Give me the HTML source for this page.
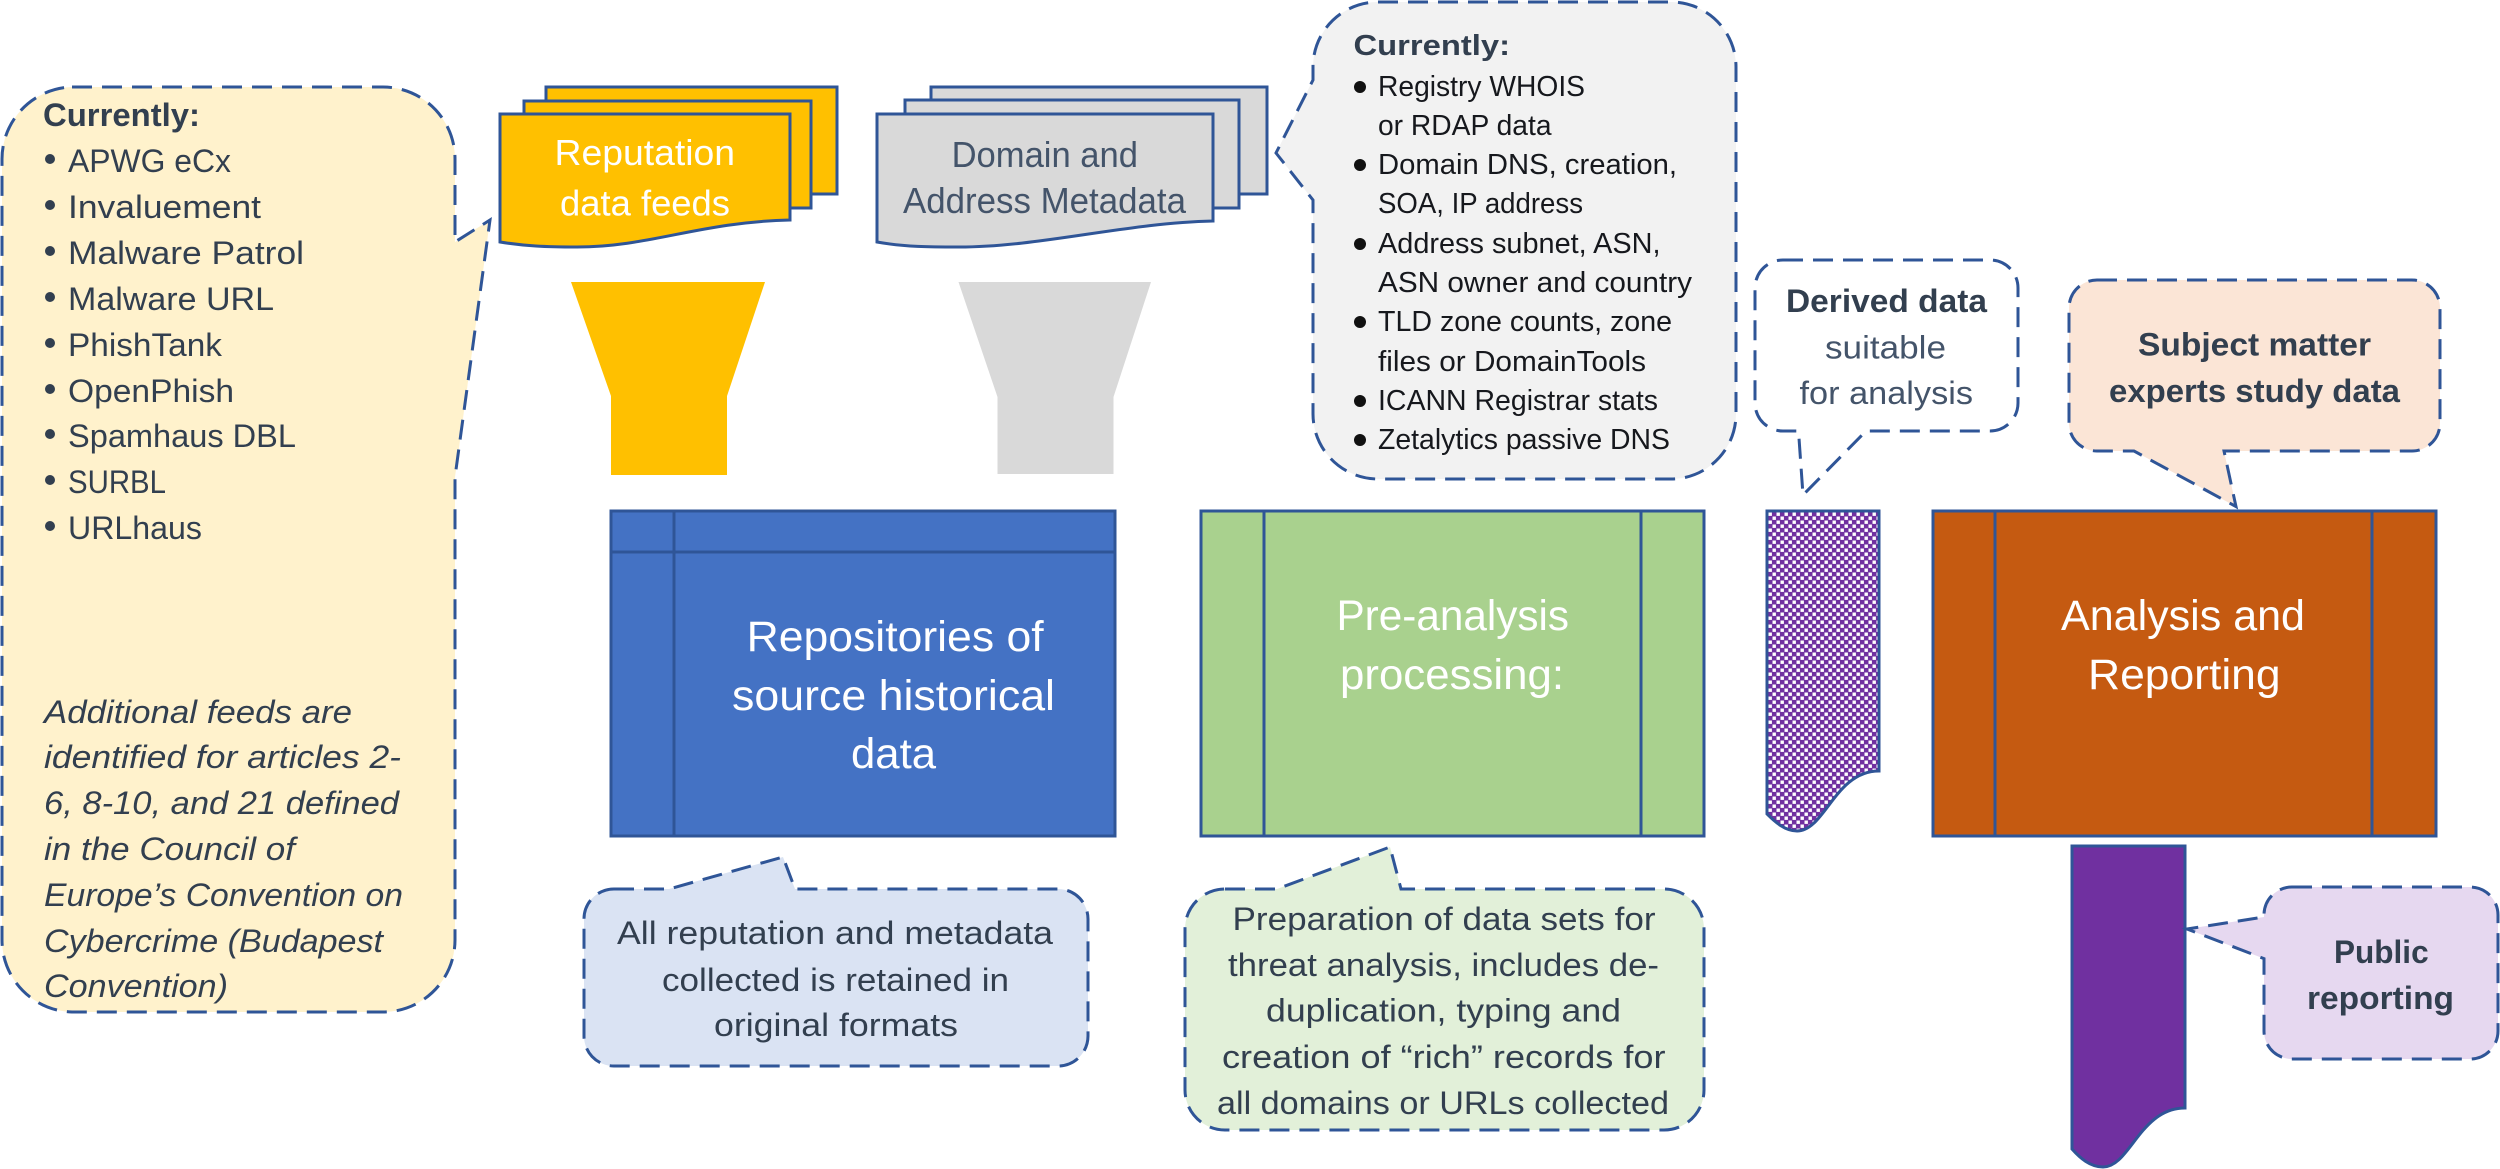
<!DOCTYPE html>
<html><head><meta charset="utf-8"><style>
html,body{margin:0;padding:0;background:#fff}
svg{display:block}
text{font-family:"Liberation Sans",sans-serif;}
.c{fill:none}
.d{stroke:#2F5597;stroke-width:3;stroke-dasharray:20 10}
.s{stroke:#2F5597;stroke-width:3}
.n{stroke:#2F5597;stroke-width:3}
.l{font-size:32px;fill:#323F4F}
.m{font-size:29px;fill:#16181d}
.b{font-weight:bold}
.i{font-style:italic}
.w{fill:#fff}
.big{font-size:43px;fill:#fff}
.mid{font-size:36px}
</style></head><body>
<svg xmlns="http://www.w3.org/2000/svg" width="2500" height="1169" viewBox="0 0 2500 1169">
<defs>
<pattern id="dots" width="8" height="8" patternUnits="userSpaceOnUse">
<rect width="8" height="8" fill="#7030A0"/>
<rect x="0.5" y="0.5" width="3.4" height="3.4" fill="#fff"/>
<rect x="4.5" y="4.5" width="3.4" height="3.4" fill="#fff"/>
</pattern>
</defs>

<!-- Yellow callout -->
<path class="d" fill="#FFF2CC" d="M72 87H383A72 72 0 0 1 455 159V242L490 220L455 477V940A72 72 0 0 1 383 1012H72A72 72 0 0 1 2 940V159A72 72 0 0 1 72 87Z"/>
<text class="l b" x="43" y="126" textLength="157" lengthAdjust="spacingAndGlyphs">Currently:</text>
<g fill="#323F4F">
<circle cx="50" cy="159" r="5"/><circle cx="50" cy="205" r="5"/><circle cx="50" cy="251" r="5"/><circle cx="50" cy="297" r="5"/><circle cx="50" cy="343" r="5"/><circle cx="50" cy="389" r="5"/><circle cx="50" cy="434" r="5"/><circle cx="50" cy="480" r="5"/><circle cx="50" cy="526" r="5"/>
</g>
<text class="l" x="68" y="172" textLength="163" lengthAdjust="spacingAndGlyphs">APWG eCx</text>
<text class="l" x="68" y="218" textLength="193" lengthAdjust="spacingAndGlyphs">Invaluement</text>
<text class="l" x="68" y="264" textLength="236" lengthAdjust="spacingAndGlyphs">Malware Patrol</text>
<text class="l" x="68" y="310" textLength="206" lengthAdjust="spacingAndGlyphs">Malware URL</text>
<text class="l" x="68" y="356" textLength="154" lengthAdjust="spacingAndGlyphs">PhishTank</text>
<text class="l" x="68" y="402" textLength="166" lengthAdjust="spacingAndGlyphs">OpenPhish</text>
<text class="l" x="68" y="447" textLength="228" lengthAdjust="spacingAndGlyphs">Spamhaus DBL</text>
<text class="l" x="68" y="493" textLength="98" lengthAdjust="spacingAndGlyphs">SURBL</text>
<text class="l" x="68" y="539" textLength="134" lengthAdjust="spacingAndGlyphs">URLhaus</text>
<text class="l i" x="44" y="723" textLength="308" lengthAdjust="spacingAndGlyphs">Additional feeds are</text>
<text class="l i" x="44" y="768" textLength="357" lengthAdjust="spacingAndGlyphs">identified for articles 2-</text>
<text class="l i" x="44" y="814" textLength="355" lengthAdjust="spacingAndGlyphs">6, 8-10, and 21 defined</text>
<text class="l i" x="44" y="860" textLength="251" lengthAdjust="spacingAndGlyphs">in the Council of</text>
<text class="l i" x="44" y="906" textLength="359" lengthAdjust="spacingAndGlyphs">Europe’s Convention on</text>
<text class="l i" x="44" y="952" textLength="339" lengthAdjust="spacingAndGlyphs">Cybercrime (Budapest</text>
<text class="l i" x="44" y="997" textLength="184" lengthAdjust="spacingAndGlyphs">Convention)</text>

<!-- Yellow doc stack -->
<rect class="s" fill="#FFC000" x="546" y="87" width="291" height="107"/>
<rect class="s" fill="#FFC000" x="524" y="101" width="287" height="107"/>
<path class="s" fill="#FFC000" d="M500 114H790V220C700 222 650 247 577 247C545 247 525 246 500 242Z"/>
<text class="mid w" x="554.5" y="165" textLength="180.5" lengthAdjust="spacingAndGlyphs">Reputation</text>
<text class="mid w" x="560" y="215.5" textLength="170" lengthAdjust="spacingAndGlyphs">data feeds</text>
<polygon fill="#FFC000" points="571,282 765,282 727,396 727,475 611,475 611,396"/>

<!-- Grey doc stack -->
<rect class="s" fill="#D9D9D9" x="931" y="87" width="336" height="107"/>
<rect class="s" fill="#D9D9D9" x="905" y="100" width="334" height="108"/>
<path class="s" fill="#D9D9D9" d="M877 114H1213V221C1125 223 1040 247 959 247C930 247 905 247 877 242Z"/>
<text class="mid" fill="#44546A" x="951.6" y="167" textLength="186.4" lengthAdjust="spacingAndGlyphs">Domain and</text>
<text class="mid" fill="#44546A" x="903" y="213" textLength="283" lengthAdjust="spacingAndGlyphs">Address Metadata</text>
<polygon fill="#D9D9D9" points="958.5,282 1151,282 1113.5,397 1113.5,474 997.5,474 997.5,397"/>

<!-- Grey callout -->
<path class="d" fill="#F2F2F2" d="M1378 2H1671A65 65 0 0 1 1736 67V414A65 65 0 0 1 1671 479H1378A65 65 0 0 1 1313 414V200L1276 153L1313 80V67A65 65 0 0 1 1378 2Z"/>
<text class="m b" style="fill:#323F4F" x="1353.5" y="55" textLength="156.5" lengthAdjust="spacingAndGlyphs">Currently:</text>
<g fill="#111">
<circle cx="1360" cy="87" r="6"/><circle cx="1360" cy="165" r="6"/><circle cx="1360" cy="244" r="6"/><circle cx="1360" cy="322" r="6"/><circle cx="1360" cy="401" r="6"/><circle cx="1360" cy="440" r="6"/>
</g>
<text class="m" x="1378" y="96" textLength="207" lengthAdjust="spacingAndGlyphs">Registry WHOIS</text>
<text class="m" x="1378" y="135" textLength="173.5" lengthAdjust="spacingAndGlyphs">or RDAP data</text>
<text class="m" x="1378" y="174" textLength="299" lengthAdjust="spacingAndGlyphs">Domain DNS, creation,</text>
<text class="m" x="1378" y="213" textLength="205" lengthAdjust="spacingAndGlyphs">SOA, IP address</text>
<text class="m" x="1378" y="253" textLength="282.5" lengthAdjust="spacingAndGlyphs">Address subnet, ASN,</text>
<text class="m" x="1378" y="292" textLength="314" lengthAdjust="spacingAndGlyphs">ASN owner and country</text>
<text class="m" x="1378" y="331" textLength="294" lengthAdjust="spacingAndGlyphs">TLD zone counts, zone</text>
<text class="m" x="1378" y="371" textLength="268" lengthAdjust="spacingAndGlyphs">files or DomainTools</text>
<text class="m" x="1378" y="410" textLength="280" lengthAdjust="spacingAndGlyphs">ICANN Registrar stats</text>
<text class="m" x="1378" y="449" textLength="292" lengthAdjust="spacingAndGlyphs">Zetalytics passive DNS</text>

<!-- Blue box -->
<rect class="n" fill="#4472C4" x="611" y="511" width="504" height="325"/>
<path class="n c" d="M674 511V836M611 552H1115"/>
<text class="big" x="746.6" y="651" textLength="297" lengthAdjust="spacingAndGlyphs">Repositories of</text>
<text class="big" x="732" y="710" textLength="323" lengthAdjust="spacingAndGlyphs">source historical</text>
<text class="big" x="851" y="768" textLength="85" lengthAdjust="spacingAndGlyphs">data</text>

<!-- Green box -->
<rect class="s" fill="#A9D18E" x="1201" y="511" width="503" height="325"/>
<path class="n c" d="M1264 511V836M1641 511V836"/>
<text class="big" x="1336.5" y="630" textLength="232.5" lengthAdjust="spacingAndGlyphs">Pre-analysis</text>
<text class="big" x="1340" y="689" textLength="224" lengthAdjust="spacingAndGlyphs">processing:</text>

<!-- Blue callout -->
<path class="d" fill="#DAE3F3" d="M614 889H669L783 857L795 889H1058A30 30 0 0 1 1088 919V1036A30 30 0 0 1 1058 1066H614A30 30 0 0 1 584 1036V919A30 30 0 0 1 614 889Z"/>
<text class="l" x="617" y="944" textLength="436" lengthAdjust="spacingAndGlyphs">All reputation and metadata</text>
<text class="l" x="662" y="991" textLength="347" lengthAdjust="spacingAndGlyphs">collected is retained in</text>
<text class="l" x="714" y="1036" textLength="244" lengthAdjust="spacingAndGlyphs">original formats</text>

<!-- Green callout -->
<path class="d" fill="#E2F0D9" d="M1225 889H1277L1390 847L1401 889H1664A40 40 0 0 1 1704 929V1090A40 40 0 0 1 1664 1130H1225A40 40 0 0 1 1185 1090V929A40 40 0 0 1 1225 889Z"/>
<text class="l" x="1232.5" y="930" textLength="423" lengthAdjust="spacingAndGlyphs">Preparation of data sets for</text>
<text class="l" x="1228" y="976" textLength="431" lengthAdjust="spacingAndGlyphs">threat analysis, includes de-</text>
<text class="l" x="1266" y="1021.6" textLength="355" lengthAdjust="spacingAndGlyphs">duplication, typing and</text>
<text class="l" x="1222" y="1068" textLength="443.5" lengthAdjust="spacingAndGlyphs">creation of “rich” records for</text>
<text class="l" x="1217" y="1114" textLength="452" lengthAdjust="spacingAndGlyphs">all domains or URLs collected</text>

<!-- Derived callout -->
<path class="d" fill="#fff" d="M1783 260H1990A28 28 0 0 1 2018 288V403A28 28 0 0 1 1990 431H1866L1803 495L1798.5 431H1783A28 28 0 0 1 1755 403V288A28 28 0 0 1 1783 260Z"/>
<text class="l b" x="1786" y="312" textLength="201" lengthAdjust="spacingAndGlyphs">Derived data</text>
<text class="l" style="fill:#44546A" x="1825" y="358.5" textLength="121" lengthAdjust="spacingAndGlyphs">suitable</text>
<text class="l" style="fill:#44546A" x="1799.5" y="404" textLength="173.5" lengthAdjust="spacingAndGlyphs">for analysis</text>

<!-- Derived doc -->
<path class="n" fill="url(#dots)" d="M1767 511H1879V771C1835 771 1825 831 1797 831C1785 831 1775 822 1767 814Z"/>

<!-- Orange box -->
<rect class="s" fill="#C55A11" x="1933" y="511" width="503" height="325"/>
<path class="n c" d="M1995 511V836M2372 511V836"/>
<text class="big" x="2061" y="630" textLength="244" lengthAdjust="spacingAndGlyphs">Analysis and</text>
<text class="big" x="2088" y="689" textLength="192.6" lengthAdjust="spacingAndGlyphs">Reporting</text>

<!-- Subject callout -->
<path class="d" fill="#FBE5D6" d="M2097 280H2412A28 28 0 0 1 2440 308V423A28 28 0 0 1 2412 451H2224L2236 506.6L2134 451H2097A28 28 0 0 1 2069 423V308A28 28 0 0 1 2097 280Z"/>
<text class="l b" x="2138" y="355.5" textLength="233" lengthAdjust="spacingAndGlyphs">Subject matter</text>
<text class="l b" x="2109" y="402" textLength="291" lengthAdjust="spacingAndGlyphs">experts study data</text>

<!-- Purple doc -->
<path class="n" fill="#7030A0" d="M2072 846H2185V1108C2140 1108 2130 1167 2103 1167C2090 1167 2080 1158 2072 1149Z"/>

<!-- Public callout -->
<path class="d" fill="#E6D8F0" d="M2292 887H2470A28 28 0 0 1 2498 915V1031A28 28 0 0 1 2470 1059H2292A28 28 0 0 1 2264 1031V958.6L2187 929L2264 917V915A28 28 0 0 1 2292 887Z"/>
<text class="l b" x="2334" y="963" textLength="94.6" lengthAdjust="spacingAndGlyphs">Public</text>
<text class="l b" x="2307" y="1009" textLength="147" lengthAdjust="spacingAndGlyphs">reporting</text>
</svg>
</body></html>
